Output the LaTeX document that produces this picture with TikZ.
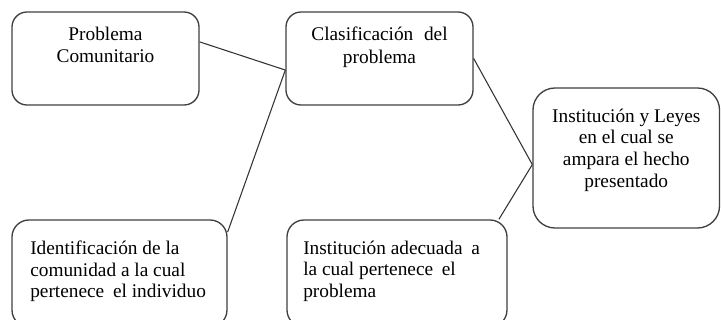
\documentclass[tikz,border=0pt]{standalone}
\usepackage{fontspec}
\setmainfont{Liberation Serif}
\begin{document}
\begin{tikzpicture}[x=0.75pt,y=-0.75pt,
        caja/.style={draw=black!75,line width=1pt,fill=white,rounded corners=#1,inner sep=0pt},
        texto/.style={inner sep=0pt,font=\fontsize{14.5}{17}\selectfont},
        textob/.style={inner sep=0pt,font=\fontsize{14.5}{16.3}\selectfont},
        enlace/.style={draw=black!80,line width=0.8pt}]
        \clip (0,0) rectangle (721,320);
        \node[caja=11.25pt,minimum width=140.25pt,minimum height=69.75pt] (b1) at (105.5,58.5) {};
        \node[caja=11.25pt,minimum width=140.25pt,minimum height=69.75pt] (b2) at (379.5,58.5) {};
        \node[caja=16.5pt,minimum width=139.9pt,minimum height=105pt] (b3) at (626.25,158) {};
        \node[caja=12.75pt,minimum width=161.25pt,minimum height=80.25pt] (b4) at (119.5,273.5) {};
        \node[caja=12.75pt,minimum width=165pt,minimum height=80.25pt] (b5) at (397,273.5) {};
        \node[texto,anchor=north,align=center] (t1) at (105.5,26.5) {Problema\\Comunitario};
        \node[texto,anchor=north,align=center] (t2) at (379.5,26.5) {Clasificación\hspace{0.3em} del\\problema};
        \node[textob,anchor=north,align=center] (t3) at (626.25,108.5) {Institución y Leyes\\en el cual se\\ampara el hecho\\presentado};
        \node[textob,anchor=north west,align=left] (t4) at (30,240.5) {Identificación de la\\comunidad a la cual\\pertenece\hspace{0.2em} el individuo};
        \node[textob,anchor=north west,align=left] (t5) at (303,240.5) {Institución adecuada\hspace{0.2em} a\\la cual pertenece\hspace{0.2em} el\\problema};
        \draw[enlace] (b1.10) -- (b2.187);
        \draw[enlace] (b4.21) -- (b2.187);
        \draw[enlace] (b2.east) -- (b3.184);
        \draw[enlace] (b5.28) -- (b3.184);
    \end{tikzpicture}
\end{document}
